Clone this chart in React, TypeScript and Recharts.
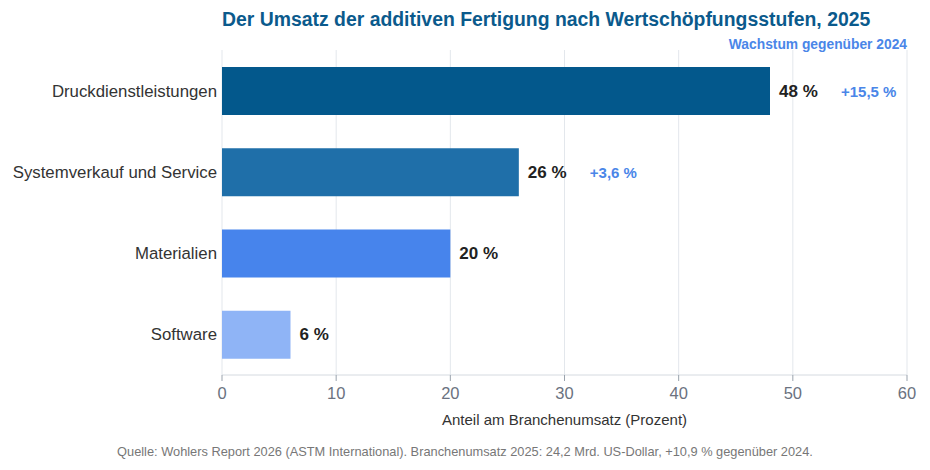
import React from 'react';
import { BarChart, Bar, XAxis, YAxis, CartesianGrid, LabelList, Cell } from 'recharts';

const categories = ['Druckdienstleistungen', 'Systemverkauf und Service', 'Materialien', 'Software'];
const shares = [48, 26, 20, 6];
const growth = ['+15,5 %', '+3,6 %', '', ''];
const barColors = ['#03588c', '#1f6fa9', '#4784ec', '#8fb4f6'];
const xTicks = [0, 10, 20, 30, 40, 50, 60];

const data = categories.map((c, i) => ({ name: c, value: shares[i], growth: growth[i] }));

const FONT = '"Liberation Sans", Arial, Helvetica, sans-serif';

const ValueLabel = (props: any) => {
  const { x, y, width, height, index } = props;
  const cy = y + height / 2;
  const end = x + width;
  const g = growth[index];
  return (
    <g>
      <text x={end + 9} y={cy} dominantBaseline="central" fontFamily={FONT} fontSize={17} fontWeight="bold" fill="#222">
        {`${shares[index]} %`}
      </text>
      {g ? (
        <text x={end + 71} y={cy} dominantBaseline="central" fontFamily={FONT} fontSize={15} fontWeight="bold" fill="#4a86e8">
          {g}
        </text>
      ) : null}
    </g>
  );
};

export default function App() {
  return (
    <div style={{ position: 'absolute', left: 0, top: 0, width: 930, height: 470, background: '#fff', fontFamily: FONT }}>
      <div style={{ position: 'absolute', left: 222, top: 8, fontSize: 19.4, fontWeight: 'bold', color: '#0b5a8c', whiteSpace: 'nowrap' }}>
        Der Umsatz der additiven Fertigung nach Wertschöpfungsstufen, 2025
      </div>
      <div style={{ position: 'absolute', right: 23, top: 37, fontSize: 13.8, fontWeight: 'bold', color: '#4a86e8', whiteSpace: 'nowrap' }}>
        Wachstum gegenüber 2024
      </div>
      <BarChart
        width={930}
        height={470}
        data={data}
        layout="vertical"
        margin={{ top: 50, right: 23, bottom: 45, left: 0 }}
        barCategoryGap={0}
      >
        <CartesianGrid horizontal={false} stroke="#e3e7ec" />
        <XAxis
          type="number"
          domain={[0, 60]}
          ticks={xTicks}
          height={50}
          stroke="#d5dae0"
          tickMargin={6}
          tick={{ fill: '#6b7280', fontSize: 16.5, fontFamily: FONT }}
          tickLine={{ stroke: '#9aa3ad' }}
          label={{ value: 'Anteil am Branchenumsatz (Prozent)', position: 'insideBottom', offset: 0, fill: '#333', fontSize: 15, fontFamily: FONT }}
        />
        <YAxis
          type="category"
          dataKey="name"
          width={222}
          axisLine={false}
          tickLine={false}
          tickSize={0}
          tickMargin={5}
          tick={{ fill: '#333', fontSize: 16.8, fontFamily: FONT }}
        />
        <Bar dataKey="value" barSize={48} isAnimationActive={false}>
          {data.map((d, i) => (
            <Cell key={d.name} fill={barColors[i]} />
          ))}
          <LabelList dataKey="value" content={<ValueLabel />} />
        </Bar>
      </BarChart>
      <div style={{ position: 'absolute', left: 0, width: 930, top: 444, textAlign: 'center', fontSize: 12.8, color: '#777', whiteSpace: 'nowrap' }}>
        Quelle: Wohlers Report 2026 (ASTM International). Branchenumsatz 2025: 24,2 Mrd. US-Dollar, +10,9 % gegenüber 2024.
      </div>
    </div>
  );
}
